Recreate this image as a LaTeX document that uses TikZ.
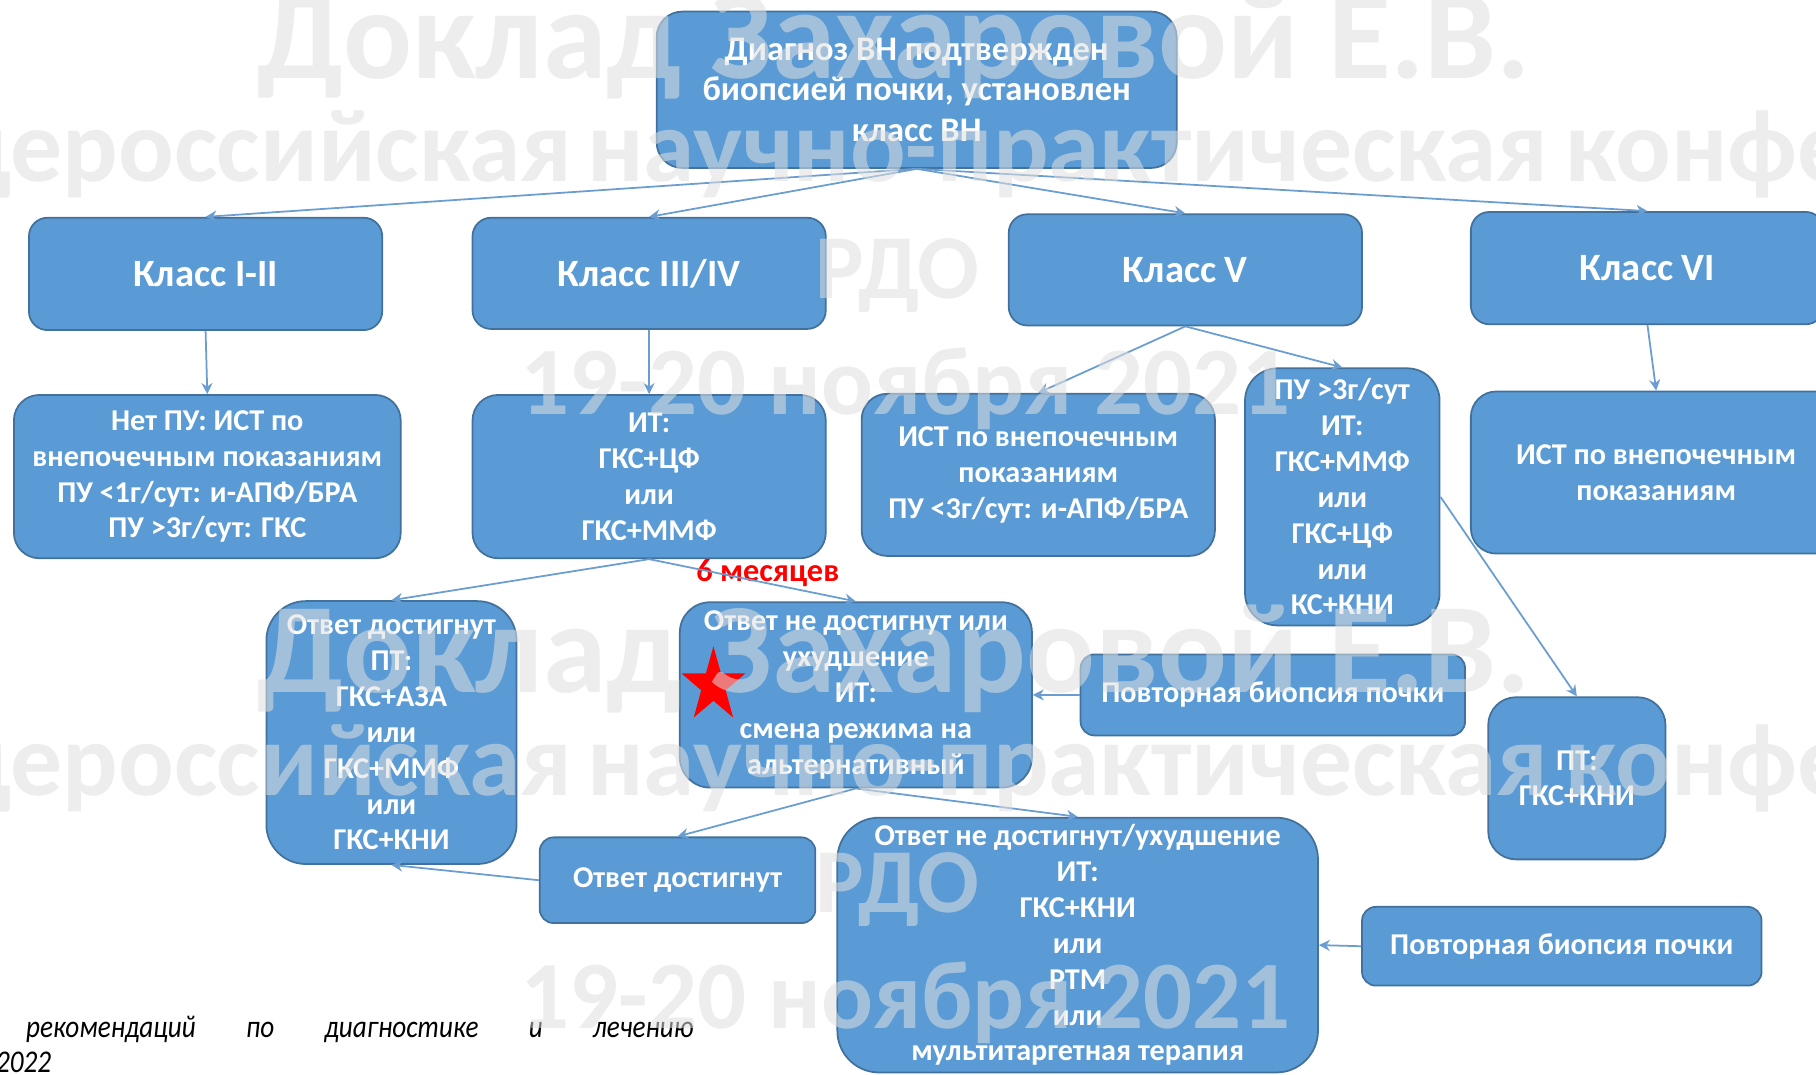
\documentclass[tikz,border=0pt]{standalone}
\usepackage{fontspec}
\setmainfont{Carlito}
\usepackage{tikz}
\usetikzlibrary{arrows.meta,shapes.geometric}
\newlength\pul
\setlength\pul{0.01158cm}
\definecolor{boxblue}{HTML}{5B9BD5}
\definecolor{boxline}{HTML}{41719C}
\definecolor{arrblue}{HTML}{6A9DD0}

\begin{document}
\begin{tikzpicture}[x=\pul, y=-\pul,
  box/.style={draw=boxline, line width=0.5pt, fill=boxblue, text=white, align=center,
    inner sep=0pt, rounded corners=#1*\pul, font=\bfseries\fontsize{8.6}{10.2}\selectfont},
  box/.default=16,
  arr/.style={draw=arrblue, line width=0.5pt, -{Stealth[length=1.1mm, width=1.1mm]}},
  wm/.style={text=gray!25, opacity=0.55, inner sep=0pt}]
\useasboundingbox (0,0) rectangle (1568,928);
\clip (0,0) rectangle (1568,928);
\fill[white] (0,0) rectangle (1568,928);

% top row
\node[box=22, minimum width=449*\pul, minimum height=135*\pul,
  font=\bfseries\fontsize{9.8}{11.5}\selectfont] (diag) at (791.5,77.5)
  {Диагноз ВН подтвержден\\биопсией почки, установлен\\класс ВН};
\node[box, minimum width=305*\pul, minimum height=97*\pul,
  font=\bfseries\fontsize{11}{13}\selectfont] (k12) at (177.5,236.5) {Класс I-II};
\node[box, minimum width=305*\pul, minimum height=96*\pul,
  font=\bfseries\fontsize{11}{13}\selectfont] (k34) at (560.5,236) {Класс III/IV};
\node[box, minimum width=305*\pul, minimum height=96*\pul,
  font=\bfseries\fontsize{11}{13}\selectfont] (k5) at (1023.5,233) {Класс V};
\node[box, minimum width=305*\pul, minimum height=97*\pul,
  font=\bfseries\fontsize{11}{13}\selectfont] (k6) at (1422.5,231.5) {Класс VI};

% second row
\node[box=22, minimum width=334*\pul, minimum height=141*\pul] (net) at (179,411.5)
  {Нет ПУ: ИСТ по\\внепочечным показаниям\\ПУ <1г/сут: и-АПФ/БРА\\ПУ >3г/сут: ГКС};
\node[box=22, minimum width=305*\pul, minimum height=141*\pul] (it34) at (560.5,411.5)
  {ИТ:\\ГКС+ЦФ\\или\\ГКС+ММФ};
\node[box=22, minimum width=305*\pul, minimum height=140*\pul] (ist5) at (896.5,410)
  {ИСТ по внепочечным\\показаниям\\ПУ <3г/сут: и-АПФ/БРА};
\node[box=28, minimum width=168*\pul, minimum height=222*\pul] (pu3) at (1159,429)
  {ПУ >3г/сут\\ИТ:\\ГКС+ММФ\\или\\ГКС+ЦФ\\или\\КС+КНИ};
\node[box=22, minimum width=320*\pul, minimum height=140*\pul] (ist6) at (1430,408)
  {ИСТ по внепочечным\\показаниям};

% third row
\node[box=34, minimum width=216*\pul, minimum height=227*\pul] (otv) at (338,632.5)
  {Ответ достигнут\\ПТ:\\ГКС+АЗА\\или\\ГКС+ММФ\\или\\ГКС+КНИ};
\node[box=26, minimum width=304*\pul, minimum height=160*\pul] (notv) at (739,600)
  {Ответ не достигнут или\\ухудшение\\ИТ:\\смена режима на\\альтернативный};
\node[box=12, minimum width=332*\pul, minimum height=70*\pul] (bio1) at (1099,600)
  {Повторная биопсия почки};
\node[box=24, minimum width=153*\pul, minimum height=140*\pul] (pt) at (1361.5,672)
  {ПТ:\\ГКС+КНИ};
\node[box=12, minimum width=238*\pul, minimum height=74*\pul] (otv2) at (585,760)
  {Ответ достигнут};
\node[box=36, minimum width=415*\pul, minimum height=220*\pul] (big) at (930.5,816)
  {Ответ не достигнут/ухудшение\\ИТ:\\ГКС+КНИ\\или\\РТМ\\или\\мультитаргетная терапия};
\node[box=12, minimum width=345*\pul, minimum height=68*\pul] (bio2) at (1348.5,817)
  {Повторная биопсия почки};

% marks
\node[text=red, inner sep=0pt, font=\bfseries\fontsize{9.2}{11}\selectfont] (six) at (663,495) {6 месяцев};
\node[star, star points=5, star point ratio=2.6, fill=red, minimum size=68*\pul,
  inner sep=0pt, xscale=0.85, transform shape] (star) at (616,592) {};

% connectors
\draw[arr] (diag.south) -- (k12.north);
\draw[arr] (diag.south) -- (k34.north);
\draw[arr] (diag.south) -- (k5.north);
\draw[arr] (diag.south) -- (k6.north);
\draw[arr] (k12.south) -- (net.north);
\draw[arr] (k34.south) -- (it34.north);
\draw[arr] (k5.south) -- (ist5.north);
\draw[arr] (k5.south) -- (pu3.north);
\draw[arr] (k6.south) -- (ist6.north);
\draw[arr] (it34.south) -- (otv.north);
\draw[arr] (it34.south) -- (notv.north);
\draw[arr] (pu3.east) -- (pt.north);
\draw[arr] (bio1.west) -- (notv.east);
\draw[arr] (notv.south) -- (otv2.north);
\draw[arr] (notv.south) -- (big.north);
\draw[arr] (otv2.west) -- (otv.south);
\draw[arr] (bio2.west) -- (big.east);

% source line
\node[anchor=base west, inner sep=0pt, font=\itshape\fontsize{9}{11}\selectfont] (src1) at (22,896)
  {\scalebox{0.86}[1]{\makebox[670\pul][s]{рекомендаций по диагностике и лечению}}};
\node[anchor=base west, inner sep=0pt, font=\itshape\fontsize{9}{11}\selectfont] (src2) at (-4,926)
  {\scalebox{0.86}[1]{2022}};

% watermark
\foreach \dy in {0,530} {
  \node[wm, anchor=base, font=\bfseries\fontsize{36.5}{36}\selectfont] (wmA) at (772,68+\dy) {Доклад Захаровой Е.В.};
  \node[wm, anchor=base, font=\bfseries\fontsize{29.5}{30}\selectfont] (wmB) at (922,157+\dy) {научно-практическая};
  \node[wm, anchor=base east, font=\bfseries\fontsize{29.5}{30}\selectfont] (wmBl) at ([xshift=-12*\pul]wmB.base west) {Общероссийская};
  \node[wm, anchor=base west, font=\bfseries\fontsize{29.5}{30}\selectfont] (wmBr) at ([xshift=14*\pul]wmB.base east) {конференция};
  \node[wm, anchor=base, font=\bfseries\fontsize{26}{26}\selectfont] (wmC) at (775,258+\dy) {РДО};
  \node[wm, anchor=base, font=\bfseries\fontsize{27.5}{27}\selectfont] (wmD) at (782,358+\dy) {19-20 ноября 2021};
}
\end{tikzpicture}
\end{document}
